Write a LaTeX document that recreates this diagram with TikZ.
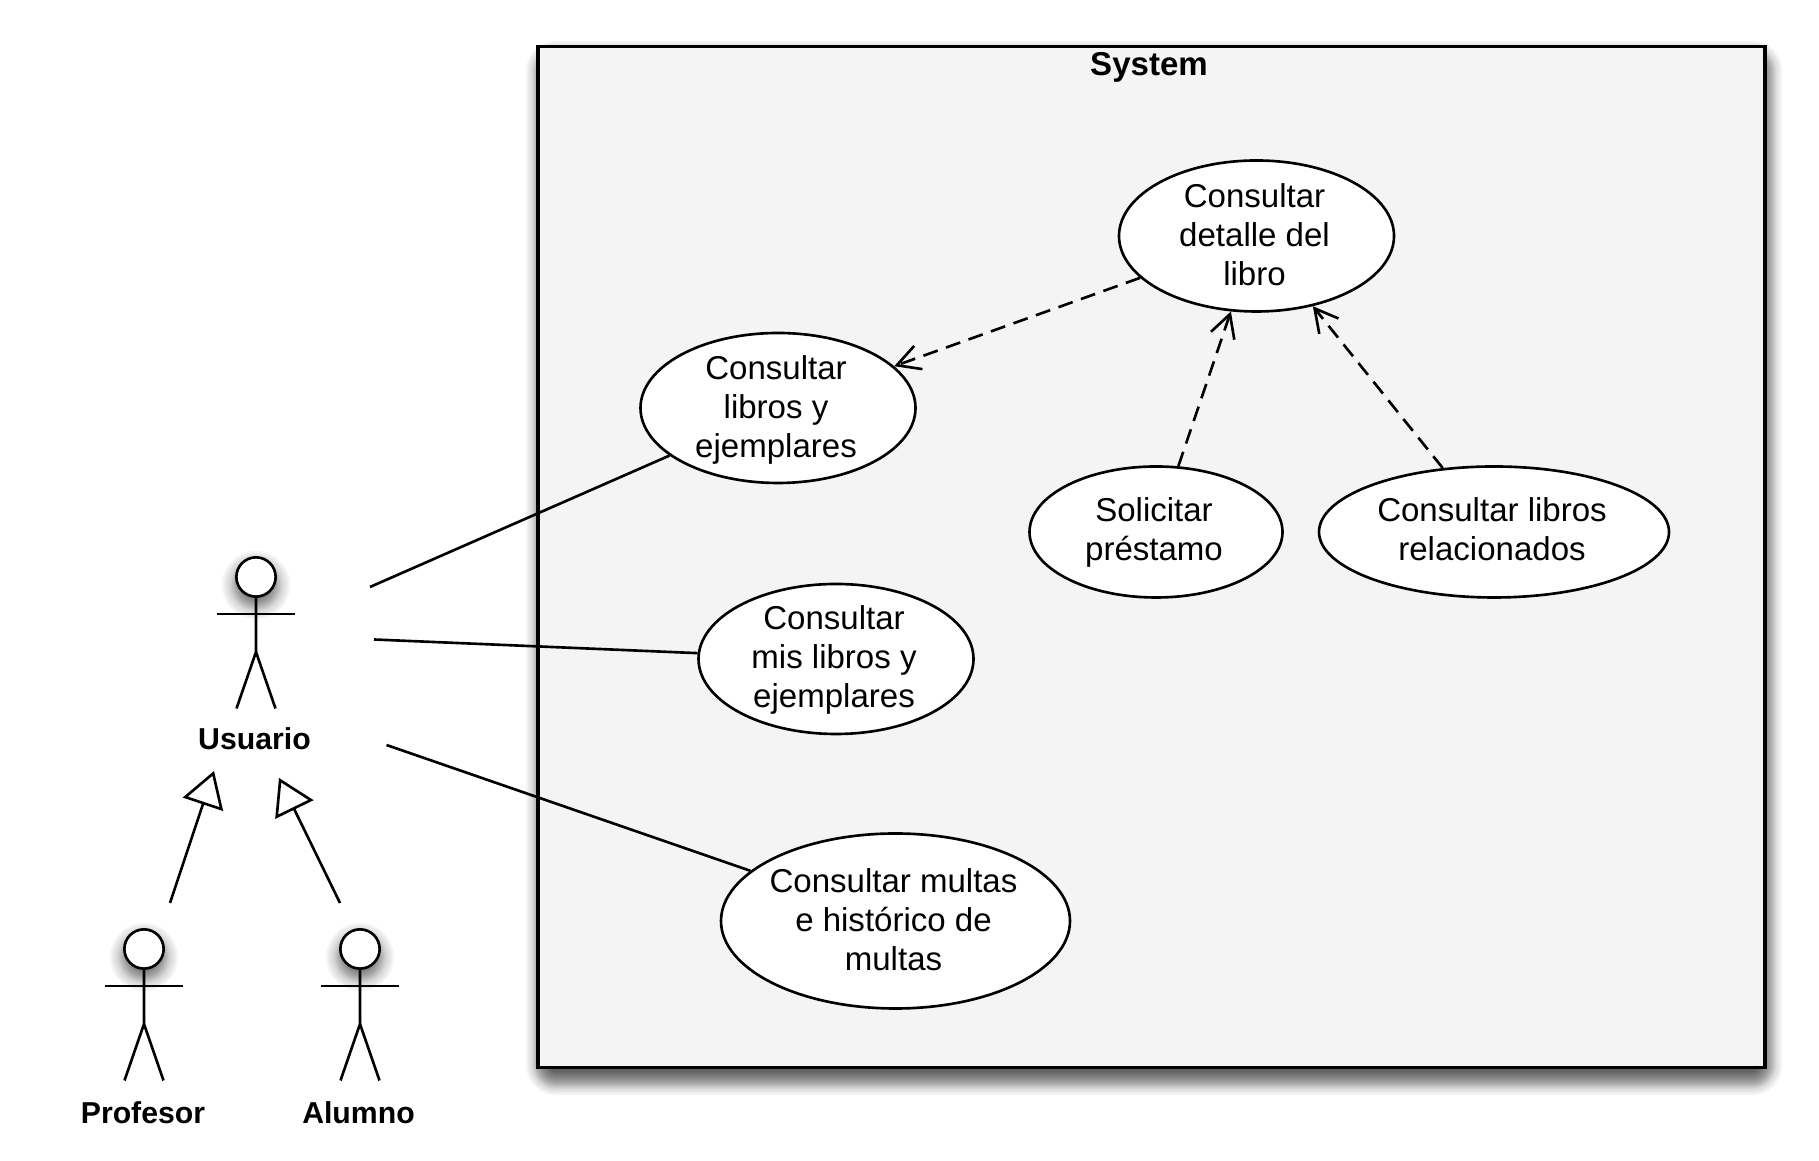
\documentclass[tikz,border=0pt]{standalone}
\usepackage{fontspec}
\setmainfont{Liberation Sans}
\usepackage{xcolor}
\usepackage{tikz}
\usetikzlibrary{arrows.meta,shapes.geometric,positioning,calc}
\definecolor{sysgray}{RGB}{244,244,244}
\newcommand{\casetext}[2]{\kern-0.02cm\raisebox{\dimexpr#1-0.083cm\relax}[0pt][0pt]{\begin{tabular}{@{}c@{}}#2\end{tabular}}\kern0.02cm}
\tikzset{
    usecase/.style={draw, ellipse, fill=white, line width=0.75pt, inner xsep=-0.2cm, inner ysep=0pt,
        font=\fontsize{9.4}{11.05}\selectfont},
    actorname/.style={font=\fontsize{8.6}{10}\selectfont\bfseries},
    sysbox/.style={draw, rectangle, fill=sysgray, line width=0.95pt, minimum width=12.27cm, minimum height=10.205cm, inner sep=0},
    assoc/.style={line width=0.75pt},
    depend/.style={line width=0.75pt, dash pattern=on 4.3pt off 2.5pt, -{Straight Barb[length=6.5pt,width=7pt]}},
    generalize/.style={line width=0.75pt, -{Triangle[open,length=10pt,width=12pt]}},
    stick/.style={line width=0.75pt}
}
\begin{document}
\begin{tikzpicture}
    \useasboundingbox (0,0) rectangle (18.19,11.61);

    % Box shadow
    \foreach \r in {-0.15,-0.13,-0.11,-0.09,-0.08,-0.07,-0.06,-0.05,-0.04,-0.03,-0.02,-0.01,0,0.01,0.02,0.03,0.04,0.05,0.06,0.07,0.08,0.09,0.11,0.13,0.15} {
        \fill[black, opacity=0.045, rounded corners=0.15cm+\r cm]
            ($(5.41,0.81)+(-\r,-\r)$) rectangle ($(17.67,11.05)+(\r,\r)$);
    }

    % System boundary
    \node[sysbox] (system) at (11.515,6.04) {};
    \node[font=\fontsize{9.4}{11}\selectfont\bfseries] (systemtitle) at (11.49,10.935) {System};

    % Use cases
    \node[usecase, minimum width=2.75cm, minimum height=1.51cm] (detalle) at (12.565,9.25) {\casetext{-0.023cm}{Consultar\\detalle del\\libro}};
    \node[usecase, minimum width=2.75cm, minimum height=1.5cm] (libros) at (7.78,7.53) {\casetext{-0.024cm}{Consultar\\libros y\\ejemplares}};
    \node[usecase, minimum width=2.75cm, minimum height=1.5cm] (mislibros) at (8.36,5.02) {\casetext{-0.012cm}{Consultar\\mis libros y\\ejemplares}};
    \node[usecase, minimum width=3.49cm, minimum height=1.75cm] (multas) at (8.955,2.40) {\casetext{-0.023cm}{Consultar multas\\e histórico de\\multas}};
    \node[usecase, minimum width=2.53cm, minimum height=1.31cm] (prestamo) at (11.56,6.29) {\casetext{-0.012cm}{Solicitar\\préstamo}};
    \node[usecase, minimum width=3.5cm, minimum height=1.31cm] (relacionados) at (14.94,6.29) {\casetext{-0.011cm}{Consultar libros\\relacionados}};

    % Dependencies
    \draw[depend] (detalle) -- (libros);
    \draw[depend] (prestamo) -- (detalle);
    \draw[depend] (relacionados) -- (detalle);

    % Actors
    \foreach \n/\x/\y in {usuario/2.56/5.84, profesor/1.44/2.12, alumno/3.60/2.12} {
        \foreach \r in {0.07,0.09,0.11,0.13,0.15,0.16,0.17,0.18,0.19,0.20,0.21,0.22,0.23,0.24,0.25,0.26,0.28,0.30,0.32,0.34} {
            \fill[black, opacity=0.04] (\x,\y-0.08) circle (\r);
        }
        \node[circle, draw, fill=white, line width=0.75pt, minimum size=0.393cm, inner sep=0] (head\n) at (\x,\y) {};
        \draw[stick] (head\n.south) -- (\x,\y-0.75) -- (\x-0.195,\y-1.315);
        \draw[stick] (\x,\y-0.75) -- (\x+0.195,\y-1.315);
        \draw[stick] (\x-0.39,\y-0.37) -- (\x+0.39,\y-0.37);
    }
    \node[actorname] (usuario) at (2.545,4.22) {Usuario};
    \node[actorname] (profesor) at (1.43,0.48) {Profesor};
    \node[actorname] (alumno) at (3.585,0.48) {Alumno};

    % Associations
    \coordinate (usuarioA) at (3.70,5.74);
    \coordinate (usuarioB) at (3.74,5.215);
    \coordinate (usuarioC) at (3.865,4.16);
    \draw[assoc] (usuarioA) -- (libros);
    \draw[assoc] (usuarioB) -- (mislibros);
    \draw[assoc] (usuarioC) -- (multas);

    % Generalizations
    \coordinate (profesorUp) at (1.70,2.58);
    \coordinate (profesorTip) at (2.14,3.90);
    \coordinate (alumnoUp) at (3.40,2.58);
    \coordinate (alumnoTip) at (2.79,3.83);
    \draw[generalize] (profesorUp) -- (profesorTip);
    \draw[generalize] (alumnoUp) -- (alumnoTip);
\end{tikzpicture}
\end{document}
